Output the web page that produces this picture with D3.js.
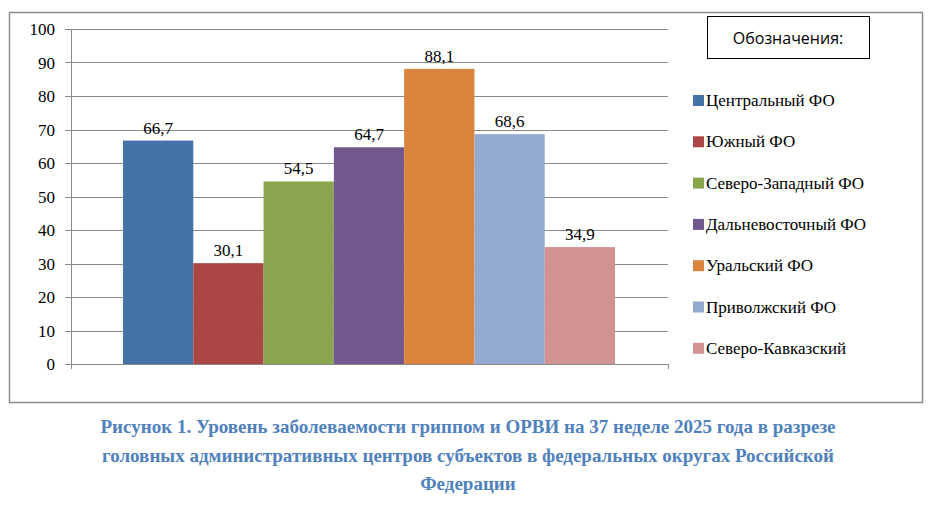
<!DOCTYPE html>
<html>
<head>
<meta charset="utf-8">
<script src="https://cdn.jsdelivr.net/npm/d3@7"></script>
<style>
body { margin: 0; background: #fff; }
text { font-family: "Liberation Serif", serif; }
</style>
</head>
<body>
<svg id="chart" width="937" height="513"></svg>
<script>
const districts = ["Центральный ФО", "Южный ФО", "Северо-Западный ФО", "Дальневосточный ФО",
    "Уральский ФО", "Приволжский ФО", "Северо-Кавказский"];
const values = [66.7, 30.1, 54.5, 64.7, 88.1, 68.6, 34.9];
const colors = ["#4572a7", "#aa4643", "#89a54e", "#71588f", "#db843d", "#93a9cf", "#d09392"];
const yTicks = [0, 10, 20, 30, 40, 50, 60, 70, 80, 90, 100];
const caption = [
    "Рисунок 1. Уровень заболеваемости гриппом и ОРВИ на 37 неделе 2025 года в разрезе",
    "головных административных центров субъектов в федеральных округах Российской",
    "Федерации"
];

const svg = d3.select("#chart");

svg.append("rect")
    .attr("x", 9.5).attr("y", 12.5)
    .attr("width", 913).attr("height", 390)
    .attr("fill", "none").attr("stroke", "#8c8c8c").attr("stroke-width", 1.5);

const y = d3.scaleLinear().domain([0, 100]).range([364, 29]);
const x = d3.scaleBand().domain(districts).range([123, 615]).padding(0);

const left = 71, right = 668;

svg.append("g")
    .selectAll("line")
    .data(yTicks)
    .enter()
    .append("line")
    .attr("x1", 65).attr("x2", right)
    .attr("y1", d => Math.round(y(d)) + 0.5).attr("y2", d => Math.round(y(d)) + 0.5)
    .attr("stroke", "#8a8a8a");

svg.append("line")
    .attr("x1", left + 0.5).attr("x2", left + 0.5)
    .attr("y1", y(100)).attr("y2", y(0) + 5)
    .attr("stroke", "#8a8a8a");
svg.append("line")
    .attr("x1", right + 0.5).attr("x2", right + 0.5)
    .attr("y1", y(0)).attr("y2", y(0) + 5)
    .attr("stroke", "#8a8a8a");

svg.append("g")
    .selectAll("text")
    .data(yTicks)
    .enter()
    .append("text")
    .attr("x", 55)
    .attr("y", d => y(d) + 6)
    .attr("text-anchor", "end")
    .attr("font-size", 17)
    .text(d => d);

svg.append("g")
    .selectAll("rect")
    .data(values)
    .enter()
    .append("rect")
    .attr("x", (d, i) => x(districts[i]))
    .attr("y", d => y(d))
    .attr("width", x.bandwidth())
    .attr("height", d => y(0) - y(d))
    .attr("fill", (d, i) => colors[i]);

svg.append("g")
    .selectAll("text")
    .data(values)
    .enter()
    .append("text")
    .attr("x", (d, i) => x(districts[i]) + x.bandwidth() / 2)
    .attr("y", d => y(d) - 7)
    .attr("text-anchor", "middle")
    .attr("font-size", 17)
    .text(d => d.toFixed(1).replace(".", ","));

// legend
svg.append("rect")
    .attr("x", 707.5).attr("y", 16.5)
    .attr("width", 162).attr("height", 42)
    .attr("fill", "#fff").attr("stroke", "#000");
svg.append("text")
    .attr("x", 788).attr("y", 44)
    .attr("text-anchor", "middle")
    .attr("font-family", "Open Sans, sans-serif")
    .style("font-family", "'Open Sans', sans-serif")
    .attr("font-size", 16)
    .text("Обозначения:");

const legend = svg.append("g");
legend.selectAll("rect")
    .data(districts)
    .enter()
    .append("rect")
    .attr("x", 693)
    .attr("y", (d, i) => 95 + i * 41.3)
    .attr("width", 11).attr("height", 11)
    .attr("fill", (d, i) => colors[i]);
legend.selectAll("text")
    .data(districts)
    .enter()
    .append("text")
    .attr("x", 706)
    .attr("y", (d, i) => 106 + i * 41.3)
    .attr("font-size", 17)
    .text(d => d);

svg.append("g")
    .selectAll("text")
    .data(caption)
    .enter()
    .append("text")
    .attr("x", 468)
    .attr("y", (d, i) => 433 + i * 28.5)
    .attr("text-anchor", "middle")
    .attr("font-size", 19)
    .attr("font-weight", "bold")
    .attr("fill", "#4f81bd")
    .text(d => d);
</script>
</body>
</html>
